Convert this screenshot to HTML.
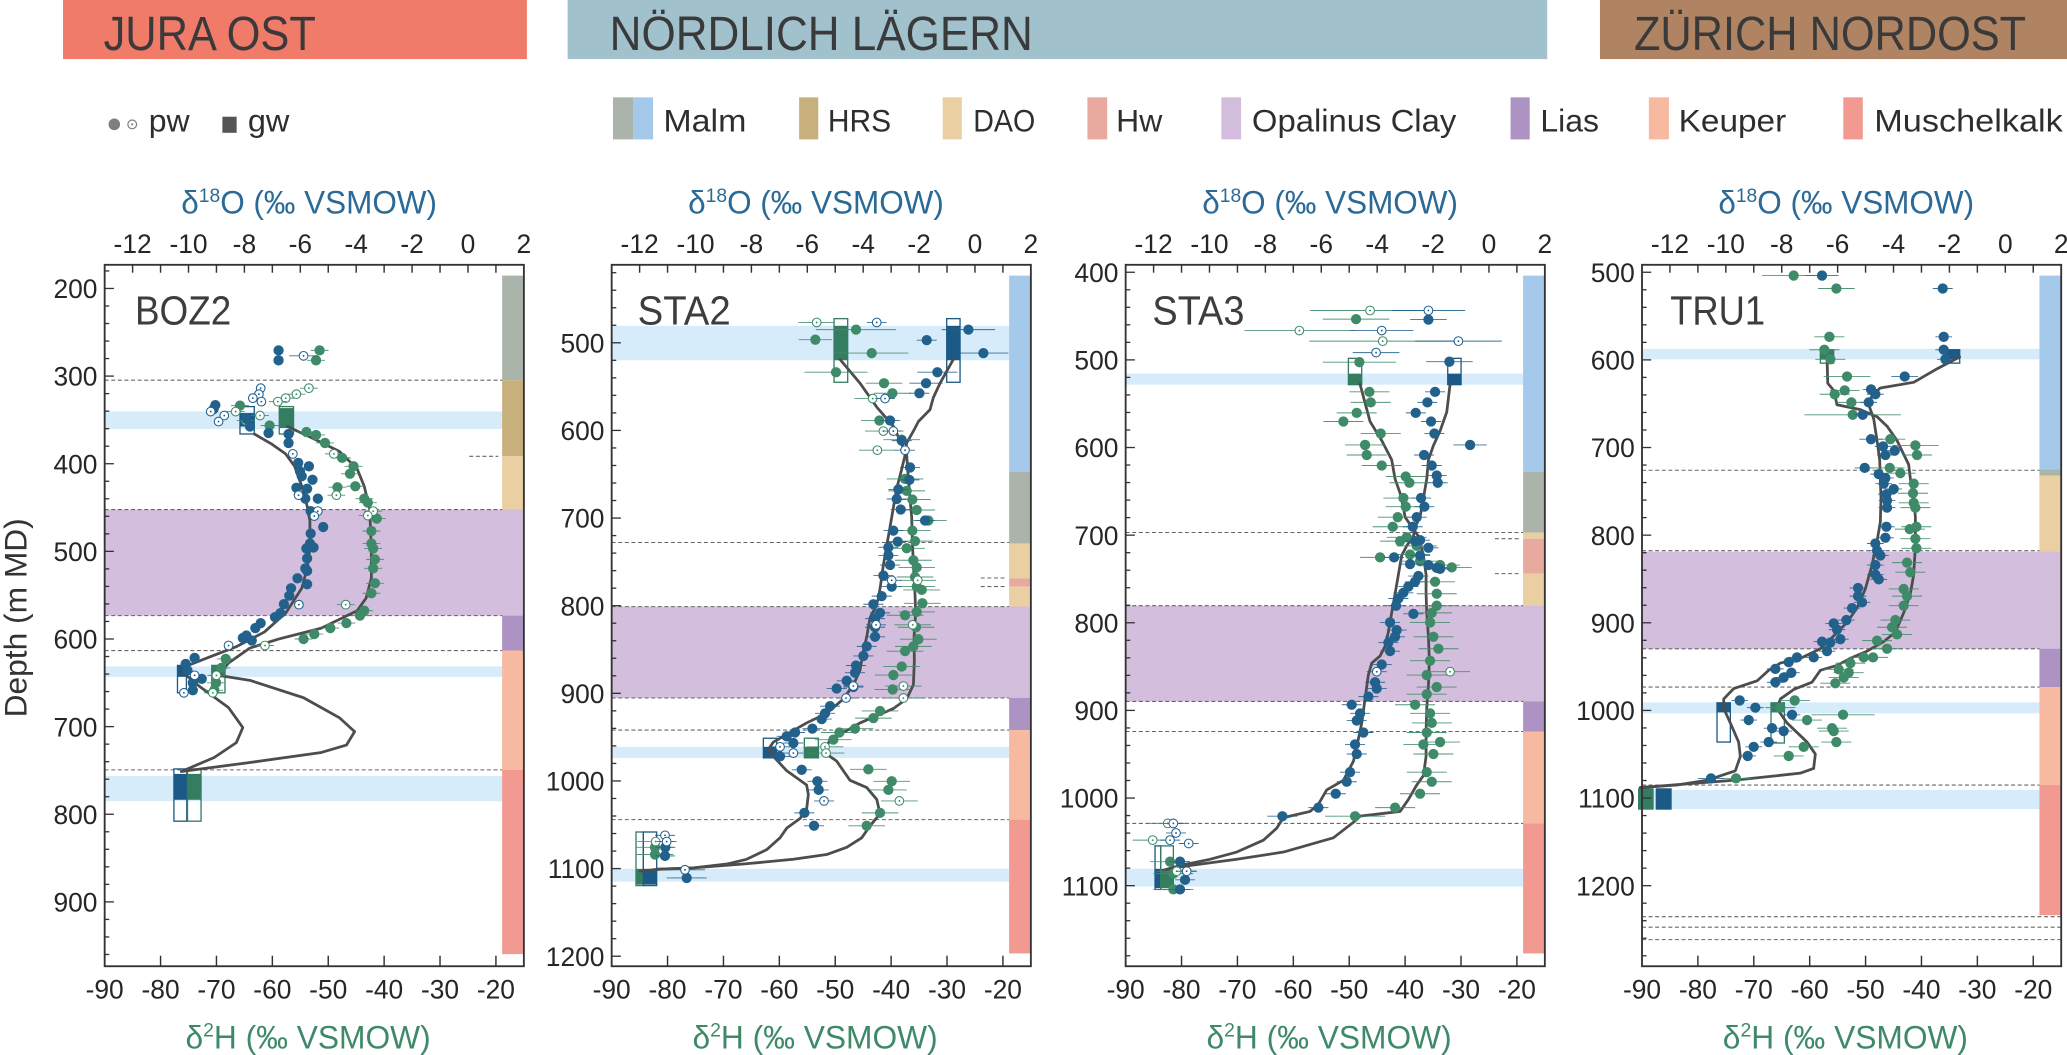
<!DOCTYPE html>
<html><head><meta charset="utf-8"><style>
html,body{margin:0;padding:0;background:#fff;}
svg{display:block;}
text{font-family:"Liberation Sans",sans-serif;}
.tk{font-size:20px;fill:#262626;text-anchor:middle;}
.dl{font-size:20px;fill:#262626;text-anchor:end;}
.t18{font-size:24.5px;fill:#2b6a96;text-anchor:middle;}
.t2{font-size:24.5px;fill:#3e8a68;text-anchor:middle;}
.pl{font-size:31px;fill:#3d3d3d;}
.bn{font-size:36.5px;fill:#3a3a3a;}
.lg{font-size:24px;fill:#2e2e2e;}
</style></head><body>
<svg id="s" xmlns="http://www.w3.org/2000/svg" width="2067" height="1055" viewBox="0 0 1568 800" preserveAspectRatio="none">
<rect x="0" y="0" width="1568" height="800" fill="#fff"/>
<!-- banners -->
<rect x="47.8" y="0" width="351.9" height="44.8" fill="#f07b68"/>
<rect x="430.6" y="0" width="743.1" height="44.8" fill="#a1c1cd"/>
<rect x="1213.7" y="0" width="354.3" height="44.8" fill="#b08463"/>
<text class="bn" x="78.6" y="37.9" textLength="161" lengthAdjust="spacingAndGlyphs">JURA OST</text>
<text class="bn" x="462.5" y="37.9" textLength="321" lengthAdjust="spacingAndGlyphs">NÖRDLICH LÄGERN</text>
<text class="bn" x="1239.5" y="37.9" textLength="297.5" lengthAdjust="spacingAndGlyphs">ZÜRICH NORDOST</text>
<!-- legend -->
<circle cx="86.7" cy="94.3" r="4.4" fill="#7f7f7f"/>
<circle cx="100.3" cy="94.3" r="3.3" fill="#fff" stroke="#7f7f7f" stroke-width="0.9"/>
<circle cx="100.3" cy="94.3" r="0.8" fill="#7f7f7f"/>
<text class="lg" x="112.8" y="99.9" textLength="31" lengthAdjust="spacingAndGlyphs">pw</text>
<rect x="168.7" y="88.5" width="10.8" height="12.2" fill="#555"/>
<text class="lg" x="188" y="99.9" textLength="31.5" lengthAdjust="spacingAndGlyphs">gw</text>
<rect x="465" y="73.8" width="15.2" height="31.9" fill="#abb4aa"/>
<rect x="480.2" y="73.8" width="15.2" height="31.9" fill="#a4c9eb"/>
<text class="lg" x="503.2" y="99.9" textLength="63" lengthAdjust="spacingAndGlyphs">Malm</text>
<rect x="606.2" y="73.8" width="14.5" height="31.9" fill="#c8b07d"/>
<text class="lg" x="628" y="99.9" textLength="48" lengthAdjust="spacingAndGlyphs">HRS</text>
<rect x="715.1" y="73.8" width="14.5" height="31.9" fill="#e9cfa1"/>
<text class="lg" x="738.3" y="99.9" textLength="47" lengthAdjust="spacingAndGlyphs">DAO</text>
<rect x="824.9" y="73.8" width="15" height="31.9" fill="#e8a99f"/>
<text class="lg" x="846.7" y="99.9" textLength="35" lengthAdjust="spacingAndGlyphs">Hw</text>
<rect x="926.5" y="73.8" width="15" height="31.9" fill="#d3bddd"/>
<text class="lg" x="949.7" y="99.9" textLength="155" lengthAdjust="spacingAndGlyphs">Opalinus Clay</text>
<rect x="1145.9" y="73.8" width="14.5" height="31.9" fill="#ad93c4"/>
<text class="lg" x="1168.5" y="99.9" textLength="44.5" lengthAdjust="spacingAndGlyphs">Lias</text>
<rect x="1250.8" y="73.8" width="15.2" height="31.9" fill="#f7b9a0"/>
<text class="lg" x="1273.4" y="99.9" textLength="81.6" lengthAdjust="spacingAndGlyphs">Keuper</text>
<rect x="1398.3" y="73.8" width="14.8" height="31.9" fill="#f29991"/>
<text class="lg" x="1421.8" y="99.9" textLength="143" lengthAdjust="spacingAndGlyphs">Muschelkalk</text>

<g id="d"></g>

<!-- axis titles -->
<text class="t18" x="234.5" y="162" textLength="194" lengthAdjust="spacingAndGlyphs">δ<tspan dy="-9" font-size="15">18</tspan><tspan dy="9">O (‰ VSMOW)</tspan></text>
<text class="t18" x="619" y="162" textLength="194" lengthAdjust="spacingAndGlyphs">δ<tspan dy="-9" font-size="15">18</tspan><tspan dy="9">O (‰ VSMOW)</tspan></text>
<text class="t18" x="1009" y="162" textLength="194" lengthAdjust="spacingAndGlyphs">δ<tspan dy="-9" font-size="15">18</tspan><tspan dy="9">O (‰ VSMOW)</tspan></text>
<text class="t18" x="1400.5" y="162" textLength="194" lengthAdjust="spacingAndGlyphs">δ<tspan dy="-9" font-size="15">18</tspan><tspan dy="9">O (‰ VSMOW)</tspan></text>
<text class="t2" x="233.7" y="795" textLength="186" lengthAdjust="spacingAndGlyphs">δ<tspan dy="-9" font-size="15">2</tspan><tspan dy="9">H (‰ VSMOW)</tspan></text>
<text class="t2" x="618.3" y="795" textLength="186" lengthAdjust="spacingAndGlyphs">δ<tspan dy="-9" font-size="15">2</tspan><tspan dy="9">H (‰ VSMOW)</tspan></text>
<text class="t2" x="1008.2" y="795" textLength="186" lengthAdjust="spacingAndGlyphs">δ<tspan dy="-9" font-size="15">2</tspan><tspan dy="9">H (‰ VSMOW)</tspan></text>
<text class="t2" x="1399.9" y="795" textLength="186" lengthAdjust="spacingAndGlyphs">δ<tspan dy="-9" font-size="15">2</tspan><tspan dy="9">H (‰ VSMOW)</tspan></text>
<text transform="translate(20,468.5) rotate(-90)" text-anchor="middle" font-size="24" fill="#333" textLength="151" lengthAdjust="spacingAndGlyphs">Depth (m MD)</text>

<!-- panel labels -->
<text class="pl" x="102.4" y="246" textLength="73" lengthAdjust="spacingAndGlyphs">BOZ2</text>
<text class="pl" x="483.7" y="246" textLength="70.6" lengthAdjust="spacingAndGlyphs">STA2</text>
<text class="pl" x="874.2" y="246" textLength="69.8" lengthAdjust="spacingAndGlyphs">STA3</text>
<text class="pl" x="1267" y="246" textLength="72" lengthAdjust="spacingAndGlyphs">TRU1</text>

<!-- tick labels per panel -->
<g transform="translate(79.4,0)">
<text class="tk" x="21.2" y="192">-12</text><text class="tk" x="63.6" y="192">-10</text><text class="tk" x="106" y="192">-8</text><text class="tk" x="148.4" y="192">-6</text><text class="tk" x="190.8" y="192">-4</text><text class="tk" x="233.2" y="192">-2</text><text class="tk" x="275.6" y="192">0</text><text class="tk" x="318" y="192">2</text>
<text class="tk" x="0" y="757">-90</text><text class="tk" x="42.4" y="757">-80</text><text class="tk" x="84.8" y="757">-70</text><text class="tk" x="127.2" y="757">-60</text><text class="tk" x="169.6" y="757">-50</text><text class="tk" x="212" y="757">-40</text><text class="tk" x="254.4" y="757">-30</text><text class="tk" x="296.8" y="757">-20</text>
<text class="dl" x="-5.5" y="226">200</text><text class="dl" x="-5.5" y="292.5">300</text><text class="dl" x="-5.5" y="358.9">400</text><text class="dl" x="-5.5" y="425.4">500</text><text class="dl" x="-5.5" y="491.8">600</text><text class="dl" x="-5.5" y="558.3">700</text><text class="dl" x="-5.5" y="624.7">800</text><text class="dl" x="-5.5" y="691.2">900</text>
</g>
<g transform="translate(464,0)">
<text class="tk" x="21.2" y="192">-12</text><text class="tk" x="63.6" y="192">-10</text><text class="tk" x="106" y="192">-8</text><text class="tk" x="148.4" y="192">-6</text><text class="tk" x="190.8" y="192">-4</text><text class="tk" x="233.2" y="192">-2</text><text class="tk" x="275.6" y="192">0</text><text class="tk" x="318" y="192">2</text>
<text class="tk" x="0" y="757">-90</text><text class="tk" x="42.4" y="757">-80</text><text class="tk" x="84.8" y="757">-70</text><text class="tk" x="127.2" y="757">-60</text><text class="tk" x="169.6" y="757">-50</text><text class="tk" x="212" y="757">-40</text><text class="tk" x="254.4" y="757">-30</text><text class="tk" x="296.8" y="757">-20</text>
<text class="dl" x="-5.5" y="267.2">500</text><text class="dl" x="-5.5" y="333.7">600</text><text class="dl" x="-5.5" y="400.1">700</text><text class="dl" x="-5.5" y="466.6">800</text><text class="dl" x="-5.5" y="533">900</text><text class="dl" x="-5.5" y="599.5">1000</text><text class="dl" x="-5.5" y="665.9">1100</text><text class="dl" x="-5.5" y="732.4">1200</text>
</g>
<g transform="translate(853.9,0)">
<text class="tk" x="21.2" y="192">-12</text><text class="tk" x="63.6" y="192">-10</text><text class="tk" x="106" y="192">-8</text><text class="tk" x="148.4" y="192">-6</text><text class="tk" x="190.8" y="192">-4</text><text class="tk" x="233.2" y="192">-2</text><text class="tk" x="275.6" y="192">0</text><text class="tk" x="318" y="192">2</text>
<text class="tk" x="0" y="757">-90</text><text class="tk" x="42.4" y="757">-80</text><text class="tk" x="84.8" y="757">-70</text><text class="tk" x="127.2" y="757">-60</text><text class="tk" x="169.6" y="757">-50</text><text class="tk" x="212" y="757">-40</text><text class="tk" x="254.4" y="757">-30</text><text class="tk" x="296.8" y="757">-20</text>
<text class="dl" x="-5.5" y="213.7">400</text><text class="dl" x="-5.5" y="280.2">500</text><text class="dl" x="-5.5" y="346.6">600</text><text class="dl" x="-5.5" y="413.1">700</text><text class="dl" x="-5.5" y="479.5">800</text><text class="dl" x="-5.5" y="546">900</text><text class="dl" x="-5.5" y="612.4">1000</text><text class="dl" x="-5.5" y="678.9">1100</text>
</g>
<g transform="translate(1245.6,0)">
<text class="tk" x="21.2" y="192">-12</text><text class="tk" x="63.6" y="192">-10</text><text class="tk" x="106" y="192">-8</text><text class="tk" x="148.4" y="192">-6</text><text class="tk" x="190.8" y="192">-4</text><text class="tk" x="233.2" y="192">-2</text><text class="tk" x="275.6" y="192">0</text><text class="tk" x="318" y="192">2</text>
<text class="tk" x="0" y="757">-90</text><text class="tk" x="42.4" y="757">-80</text><text class="tk" x="84.8" y="757">-70</text><text class="tk" x="127.2" y="757">-60</text><text class="tk" x="169.6" y="757">-50</text><text class="tk" x="212" y="757">-40</text><text class="tk" x="254.4" y="757">-30</text><text class="tk" x="296.8" y="757">-20</text>
<text class="dl" x="-5.5" y="213.7">500</text><text class="dl" x="-5.5" y="280.2">600</text><text class="dl" x="-5.5" y="346.6">700</text><text class="dl" x="-5.5" y="413.1">800</text><text class="dl" x="-5.5" y="479.5">900</text><text class="dl" x="-5.5" y="546">1000</text><text class="dl" x="-5.5" y="612.4">1100</text><text class="dl" x="-5.5" y="678.9">1200</text>
</g>
</svg>
<script>
(function(){
var NS="http://www.w3.org/2000/svg",G=document.getElementById('d');
function el(t,a,p){var e=document.createElementNS(NS,t);for(var k in a)e.setAttribute(k,a[k]);(p||G).appendChild(e);return e;}
var COL={ma:'#a4c9eb',gr:'#abb4aa',hrs:'#c8b07d',dao:'#e9cfa1',hw:'#e8a99f',op:'#d3bddd',li:'#ad93c4',ke:'#f7b9a0',mu:'#f29991'};
var CB='#23618d',CG='#3f8b69',SB='#1b5a86',SG='#347d60';
var PAN=[
{L:79.4,top:173,pur:[386.4,466.8],bl:[[312,325.3],[505.3,513.3],[588.4,607.6]],df:[288.3,386.4,466.8,493.3,583.8],ds:[[346,356,378]],bar:[[209,288.3,'gr'],[288.3,346,'hrs'],[346,386.4,'dao'],[386.4,466.8,'op'],[466.8,493.3,'li'],[493.3,583.8,'ke'],[583.8,723.5,'mu']],m:[0,0.2709,151.7,0.3774],e:[12,25]},
{L:464,top:411,pur:[460,529.3],bl:[[247.1,273.2],[566.3,574.7],[658.8,668.6]],df:[411.4,460,529.3,553.6,621.5],ds:[[438.3,744,762.4],[444.8,744,762.4]],bar:[[209,357.7,'ma'],[357.7,412.1,'gr'],[412.1,438.6,'dao'],[438.6,444.8,'hw'],[444.8,460,'dao'],[460,529.3,'op'],[529.3,553.6,'li'],[553.6,621.5,'ke'],[621.5,723,'mu']],m:[424.8,0.2529,174.5,0.3628],e:[30,55]},
{L:853.9,top:391.5,pur:[459.3,531.9],bl:[[283.3,291.7],[658.8,672.3]],df:[403.8,459.3,531.9,554.7,624.4],ds:[[408.5,1134,1153],[435,1134,1153]],bar:[[209,357.7,'ma'],[357.7,403.8,'gr'],[403.8,408.5,'dao'],[408.5,435,'hw'],[435,459.3,'dao'],[459.3,531.9,'op'],[531.9,554.7,'li'],[554.7,624.4,'ke'],[624.4,723,'mu']],m:[811.7,0.2529,174.5,0.3628],e:[30,60]},
{L:1245.6,top:491.5,pur:[418.3,492],bl:[[264.5,272.5],[532.6,540.9],[599,613.5]],df:[356.6,417.6,492,521,595.3,695.1,703.1,712.5],ds:[],bar:[[209,355.9,'ma'],[355.9,360.6,'gr'],[360.6,418.3,'dao'],[418.3,492,'op'],[492,521,'li'],[521,595.3,'ke'],[595.3,694,'mu']],m:[1188.7,0.2529,174.5,0.3628],e:[25,45]}
];
var DATA=[
{cb:"712,470 760,490 800,510 825,535 845,575 860,615 868,645 868,700 860,740 845,780 800,830 740,868 660,898 580,920 520,937 513,950 560,978 640,1020 680,1060 662,1090 600,1120 508,1148",
cg:"805,455 880,480 950,505 1000,540 1020,575 1035,620 1040,700 1040,760 1025,800 1000,825 900,860 780,882 700,900 640,930 612,955 700,965 850,1000 950,1040 993,1068 970,1095 900,1110 700,1130 508,1148",
b:"780,302 780,322 603,412 598,420 690,440 700,455 752,468 808,470 808,488 835,528 840,545 865,535 845,555 875,562 830,578 860,580 855,600 890,600 870,625 905,657 870,670 868,690 858,700 878,698 860,720 855,740 860,745 833,760 860,772 815,780 810,795 795,812 785,830 770,838 730,850 715,860 690,875 680,880 705,885 545,920 520,932 525,945 565,962 540,970 540,985",
bo:"850,313,40 730,378 725,390 708,398 732,405 590,425 628,433 612,445 820,510 836,593 890,625 880,635 837,813 640,895 545,955 515,990",
g:"895,302 885,322 672,413 755,453 858,466 885,472 910,488 958,518 990,535 980,550 995,575 945,577 1020,600 1030,608 1055,640 1040,665 1040,690 1045,700 1050,722 1045,740 1050,770 1040,790 1020,825 1008,835 970,850 925,860 880,872 850,882 632,922 620,940 605,970 600,985",
go:"865,378 830,390 800,398 778,405 660,425 688,443 728,433 935,510 942,593 1045,625 1030,634 968,813 742,895 606,955 596,990",
sq:[[672,712,428,455,415,470,'b'],[782,822,418,458,415,470,'g'],[497,522,935,958,935,990,'b'],[593,630,935,958,935,990,'g'],[487,523,1153,1205,1143,1248,'b'],[525,563,1153,1205,1143,1248,'g']]},
{cb:"1180,270 1140,320 1120,350 1110,375 1075,400 1060,420 1040,445 1035,470 1025,500 1010,540 1000,580 990,620 980,660 970,700 962,740 955,770 945,790 930,810 920,850 910,880 900,920 880,950 850,980 800,1010 740,1030 690,1050 640,1070 625,1085 640,1100 680,1130 720,1150 740,1160 745,1180 740,1210 720,1230 680,1250 660,1270 620,1295 560,1315 500,1325 400,1333 290,1336 240,1340",
cg:"840,270 900,320 950,370 1000,410 1020,440 1040,470 1045,520 1050,560 1055,600 1057,650 1060,700 1065,760 1067,800 1062,850 1063,900 1060,950 1040,980 1000,1000 950,1015 900,1030 850,1050 810,1065 800,1080 800,1095 830,1110 870,1150 920,1165 950,1190 960,1220 930,1245 905,1270 860,1290 800,1305 700,1315 550,1325 400,1333 290,1336",
b:"1225,208,80 1100,230 1270,257,75 1132,297,60 1098,320,50 1078,341 990,398 1025,440 1050,496 1048,522 1015,542 1010,562 1022,584 1095,607 1000,628 1013,651 985,663 985,680 990,700 970,722 995,745 965,765 940,782 960,800 945,812 945,830 945,850 920,870 910,890 888,910 885,925 860,942 830,958 880,955 810,995 795,1010 785,1022 757,1042 705,1050 680,1058 700,1072 660,1100 725,1128 772,1152 776,1170 733,1218 762,1245 316,1290 315,1308 380,1354,60",
bo:"950,193 975,352 1000,420 1035,460 995,732 948,825 880,953 858,978 660,1080 700,1093 792,1193 315,1265 320,1278 375,1337,60",
g:"888,208,120 766,229,50 935,257,110 828,297,95 972,320 997,341 958,398 1025,438 1035,520 1040,545 1057,563 1070,585 1105,607 1057,628 1065,650 1040,665 1060,690 1070,705 1065,725 1070,745 1085,752 1087,780 1070,798 1035,805 1068,830 1075,855 1060,870 1035,880 1025,912 1000,930 998,960 960,1005 940,1020 885,1042 838,1050 820,1065 925,1127 995,1152 985,1170 960,1218 920,1245 285,1305 285,1290",
go:"770,193 938,352 970,420 952,460 1073,732 1058,825 1030,953 1030,978 795,1080 798,1093 1018,1193 287,1278",
sq:[[822,863,200,272,185,318,'g'],[1160,1200,200,272,185,318,'b'],[610,650,1080,1103,1062,1103,'b'],[733,775,1080,1103,1062,1103,'g'],[228,250,1335,1368,1258,1370,'g'],[250,290,1335,1368,1258,1370,'b']]},
{cb:"1140,322 1130,380 1110,420 1090,450 1075,480 1070,520 1060,560 1050,600 1035,620 1030,640 1010,660 995,680 985,720 975,760 965,800 955,840 945,870 930,890 905,905 895,930 885,980 875,1030 860,1080 850,1110 820,1150 770,1170 745,1200 720,1215 640,1228 620,1250 580,1275 500,1300 420,1315 330,1328 280,1338",
cg:"870,322 900,400 935,440 965,480 975,520 990,550 1000,580 1005,600 1030,625 1045,640 1060,680 1068,720 1068,760 1070,800 1075,850 1078,900 1075,950 1070,1000 1068,1050 1068,1100 1060,1140 1040,1160 1015,1190 990,1215 870,1225 855,1235 790,1270 640,1300 500,1315 340,1330 280,1338",
b:"1075,187,55 1138,275,70 1095,338 1072,360 1037,382 1083,400 1093,425 1200,449,50 1062,470 1085,492 1100,513 1103,528 1053,560 1063,578 1040,600 1028,620 1050,648 1035,650 1075,664 1050,680 1020,698 972,684 1075,700 1100,706 1110,708 1045,723 1035,735 1015,745 1000,758 985,770 978,785 1030,802 960,820 980,836 975,850 955,862 960,880 935,908 915,945 920,958 895,975 845,992 870,1010 860,1025 880,1050 855,1075 860,1095 840,1133 830,1153 797,1178 745,1207 637,1225,45 330,1320 345,1358 330,1378",
bo:"1075,168,110 935,210,95 1165,232,130 918,256,70 920,923 310,1240 318,1260 300,1275 356,1282 350,1340",
g:"858,186,100 868,276,110 898,338 902,360 860,382 820,400 932,425 885,449 890,470 935,492 1007,515 1018,528 1000,560 1007,578 983,600 968,620 1010,642 990,650 1040,660 1020,678 930,684 1050,692 1110,700 1145,705 1095,735 1100,760 1100,785 1085,800 1080,820 1090,850 1105,875 1080,900 1070,930 1100,955 1070,970 1035,992 1080,1010 1085,1030 1070,1050 1110,1070 1060,1075 1090,1095 1070,1133 1085,1153 1050,1178 975,1207 855,1225,90 300,1320 310,1345 310,1378",
go:"900,168,180 688,210,165 938,232,220 1140,923 293,1240 248,1275 320,1340",
sq:[[835,875,300,323,268,323,'g'],[1133,1173,300,323,268,323,'b'],[255,272,1335,1375,1287,1378,'b'],[272,310,1335,1375,1287,1378,'g']]},
{cb:"1178,265 1110,290 1040,318 940,330 915,345 905,365 920,395 930,440 938,480 940,520 942,560 940,610 930,650 915,700 895,750 870,790 840,820 790,855 760,875 700,895 640,905 605,920 570,942 500,958 470,980 470,1000 490,1030 515,1070 520,1100 505,1130 420,1150 330,1160 220,1165",
cg:"780,270 782,320 800,335 810,365 880,375 930,390 960,410 990,440 1025,490 1030,520 1040,560 1045,600 1045,660 1040,720 1030,760 1010,800 985,840 950,860 900,880 850,895 810,910 760,920 735,945 680,960 640,980 630,1000 660,1030 720,1070 745,1095 740,1125 700,1135 500,1150 350,1158 220,1165",
b:"765,95,50 1127,122,30 1130,223 1130,250 1135,270 1013,306,40 912,333 925,343 905,360 887,386 912,437,35 948,452 983,461 955,470 893,497,30 935,510 955,518 950,530 980,541 958,552 960,565 960,580 958,620 955,643 925,655 930,670 940,680 925,700 925,720 935,730 873,748 873,765 885,778 855,790 800,822 810,835 838,815 820,855 790,862 765,860 780,880 740,893 690,893 665,903 625,917 673,925 650,935 625,945 518,983 565,998 545,1024 675,1013 615,1041 650,1047 605,1070 560,1080 542,1099 432,1146,40",
bo:"",
g:"680,95,95 808,122,55 787,223 772,250 790,270 840,306,70 833,335 803,343 853,360 857,386,145 970,437 1045,450,70 1050,470 968,497 1000,508 1040,530 1038,550 1040,570 1045,580 1048,620 1028,625 1045,645 1048,665 1020,695 1030,715 1010,750 1020,765 1010,785 985,815 975,830 990,845 960,875 930,858 890,893 918,893 850,905 815,918 845,925 830,935 805,947 683,983 640,998 720,1024 828,1013,95 795,1041 800,1047 808,1070 710,1080 665,1099 507,1146",
go:"",
sq:[[760,800,250,270,250,278,'g'],[1140,1178,250,270,250,278,'b'],[450,490,988,1008,988,1070,'b'],[612,652,988,1008,988,1072,'g'],[215,258,1168,1210,1168,1210,'g'],[268,312,1168,1210,1168,1210,'b']]}
];
function parse(s){if(!s)return[];return s.trim().split(/\s+/).map(function(t){return t.split(',').map(Number);});}
PAN.forEach(function(p,i){
 var L=p.L,R=L+318,T=200.8,B=732.7,bx=R-16.5,m=p.m,d=DATA[i];
 function X(v){return m[0]+v*m[1];} function Y(v){return m[2]+v*m[3];}
 el('rect',{x:L,y:p.pur[0],width:318,height:p.pur[1]-p.pur[0],fill:'#d3bedd'});
 p.bl.forEach(function(b){el('rect',{x:L,y:b[0],width:bx-L,height:b[1]-b[0],fill:'#d7ecfb'});});
 p.bar.forEach(function(b){el('rect',{x:bx,y:b[0],width:16,height:b[1]-b[0],fill:COL[b[2]]});});
 p.df.forEach(function(y){el('line',{x1:L,x2:(y>694?R:bx),y1:y,y2:y,stroke:'#666','stroke-width':0.8,'stroke-dasharray':'3,2'});});
 p.ds.forEach(function(s){el('line',{x1:s[1],x2:s[2],y1:s[0],y2:s[0],stroke:'#666','stroke-width':0.8,'stroke-dasharray':'3,2'});});
 d.sq.forEach(function(q){var c=q[6]=='b'?SB:SG;
  el('rect',{x:X(q[0]),y:Y(q[4]),width:(q[1]-q[0])*m[1],height:(q[5]-q[4])*m[3],fill:'none',stroke:c,'stroke-width':1});
  el('rect',{x:X(q[0]),y:Y(q[2]),width:(q[1]-q[0])*m[1],height:(q[3]-q[2])*m[3],fill:c});});
 [d.cb,d.cg].forEach(function(c){var pts=parse(c).map(function(a){return X(a[0]).toFixed(1)+','+Y(a[1]).toFixed(1);}).join(' ');
  el('polyline',{points:pts,fill:'none',stroke:'#4d4d4d','stroke-width':2.1,'stroke-linejoin':'round','stroke-linecap':'round'});});
 [['g',CG,0,1],['go',CG,1,1],['b',CB,0,0],['bo',CB,1,0]].forEach(function(t){
  parse(d[t[0]]).forEach(function(a){var x=X(a[0]),y=Y(a[1]),e=(a.length>2?a[2]:p.e[t[3]])*m[1];
   el('line',{x1:x-e,x2:x+e,y1:y,y2:y,stroke:t[1],'stroke-width':0.7,'stroke-opacity':0.9});
   if(t[2]){el('circle',{cx:x,cy:y,r:3.3,fill:'#fff',stroke:t[1],'stroke-width':0.8});el('circle',{cx:x,cy:y,r:0.7,fill:t[1]});}
   else el('circle',{cx:x,cy:y,r:3.9,fill:t[1]});});});
 el('rect',{x:L,y:T,width:318,height:B-T,fill:'none',stroke:'#333','stroke-width':1.4});
 for(var v=-12;v<=1;v++){var x=L+(v+13)*21.2;el('line',{x1:x,x2:x,y1:T,y2:T+6,stroke:'#333','stroke-width':1.1});}
 for(var v2=-80;v2<=-20;v2+=10){var x2=L+(v2+90)*4.24;el('line',{x1:x2,x2:x2,y1:B,y2:B-8,stroke:'#333','stroke-width':1.1});}
 for(var dd=Math.ceil(p.top/20)*20;dd<p.top+800;dd+=20){var y=T+(dd-p.top)*0.6645;if(y<=T+1)continue;var ln=(dd%100==0)?7:3.5;
  el('line',{x1:L,x2:L+ln,y1:y,y2:y,stroke:'#333','stroke-width':1});}
});
})();
</script>
</body></html>
